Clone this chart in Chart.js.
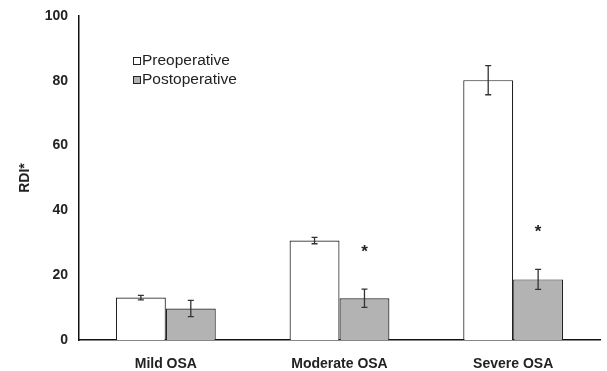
<!DOCTYPE html>
<html>
<head>
<meta charset="utf-8">
<script src="https://cdn.jsdelivr.net/npm/chart.js@4"></script>
<style>
  html, body { margin: 0; padding: 0; background: #fff; }
  #wrap { width: 607px; height: 371px; }
</style>
</head>
<body>
<div id="wrap"><canvas id="rdiChart"></canvas></div>
<script>
const categories = ["Mild OSA", "Moderate OSA", "Severe OSA"];
const preValues = [13.1, 30.7, 80.2];
const preErrors = [0.7, 1.0, 4.5];
const postValues = [9.7, 12.9, 18.7];
const postErrors = [2.5, 2.8, 3.1];
const significant = [false, true, true];
const yTicks = [0, 20, 40, 60, 80, 100];

// error bars + significance stars
const extrasPlugin = {
    id: "extras",
    afterDatasetsDraw(chart) {
        const c = chart.ctx;
        const y = chart.scales.y;
        c.save();
        c.strokeStyle = "#333";
        c.lineWidth = 1.3;
        chart.data.datasets.forEach((ds, di) => {
            const meta = chart.getDatasetMeta(di);
            meta.data.forEach((bar, i) => {
                const v = ds.data[i];
                const e = ds.errors[i];
                const top = y.getPixelForValue(v + e);
                const bot = y.getPixelForValue(v - e);
                c.beginPath();
                c.moveTo(bar.x, top); c.lineTo(bar.x, bot);
                c.moveTo(bar.x - 3, top); c.lineTo(bar.x + 3, top);
                c.moveTo(bar.x - 3, bot); c.lineTo(bar.x + 3, bot);
                c.stroke();
                if (di === 1 && significant[i]) {
                    c.fillStyle = "#222";
                    c.font = "bold 17px 'Liberation Sans', Arial, sans-serif";
                    c.textAlign = "center";
                    c.textBaseline = "middle";
                    c.fillText("*", bar.x, top - 37);
                }
            });
        });
        c.restore();
    }
};

// legend drawn inside plot area
const legendPlugin = {
    id: "boxLegend",
    afterDraw(chart) {
        const c = chart.ctx;
        c.save();
        c.font = "15.5px 'Liberation Sans', Arial, sans-serif";
        c.textBaseline = "middle";
        chart.data.datasets.forEach((ds, i) => {
            const x = 133, yy = 61 + i * 19;
            c.fillStyle = ds.backgroundColor;
            c.strokeStyle = "#222";
            c.lineWidth = 1;
            c.fillRect(x, yy - 4, 8, 8);
            c.strokeRect(x + 0.5, yy - 3.5, 7, 7);
            c.fillStyle = "#222";
            c.fillText(ds.label, x + 9, yy);
        });
        c.restore();
    }
};

new Chart(document.getElementById("rdiChart"), {
    type: "bar",
    data: {
        labels: categories,
        datasets: [{
            label: "Preoperative",
            data: preValues,
            errors: preErrors,
            backgroundColor: "#ffffff",
            borderColor: "#222",
            borderWidth: 1.2
        }, {
            label: "Postoperative",
            data: postValues,
            errors: postErrors,
            backgroundColor: "#b3b3b3",
            borderColor: "#222",
            borderWidth: 1.2
        }]
    },
    options: {
        responsive: true,
        maintainAspectRatio: false,
        animation: false,
        layout: { padding: { top: 16, right: 7, bottom: 0, left: 0 } },
        plugins: {
            legend: { display: false },
            tooltip: { enabled: false }
        },
        datasets: {
            bar: { categoryPercentage: 0.575, barPercentage: 1.0 }
        },
        scales: {
            x: {
                grid: { display: false, drawTicks: false },
                border: { color: "#111", width: 1.5 },
                ticks: {
                    color: "#222",
                    padding: 16,
                    font: { family: "'Liberation Sans', Arial, sans-serif", size: 14, weight: "bold" }
                },
                afterFit(s) { s.height = 31; }
            },
            y: {
                min: 0,
                max: 100,
                afterBuildTicks(s) { s.ticks = yTicks.map(v => ({ value: v })); },
                grid: { display: false, drawTicks: false },
                border: { color: "#111", width: 1.5 },
                ticks: {
                    color: "#222",
                    padding: 11,
                    font: { family: "'Liberation Sans', Arial, sans-serif", size: 14, weight: "bold" }
                },
                title: {
                    display: true,
                    text: "RDI*",
                    color: "#222",
                    padding: { top: 17, bottom: 0 },
                    font: { family: "'Liberation Sans', Arial, sans-serif", size: 14, weight: "bold" }
                },
                afterFit(s) { s.width = 79; s.paddingTop = 0; s.paddingBottom = 0; }
            }
        }
    },
    plugins: [extrasPlugin, legendPlugin]
});
</script>
</body>
</html>
